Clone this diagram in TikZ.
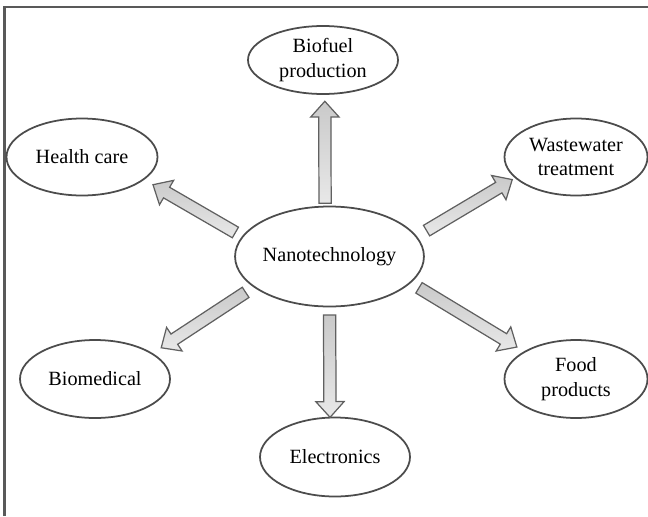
\documentclass[tikz,border=0pt]{standalone}
\usepackage{fontspec}
\setmainfont{Liberation Serif}
\usepackage{xcolor}
\usepackage{tikz}
\usetikzlibrary{shapes.geometric,shapes.arrows,calc}

\tikzset{
	topic/.style={ellipse, draw=gray!60!black, line width=1pt, fill=white, inner sep=0pt,
		align=center, font=\fontsize{11.5}{14.2}\selectfont},
	bigarrow/.style={single arrow, draw=gray!75!black, line width=0.7pt, inner xsep=0pt, inner ysep=0.11cm,
		minimum width=0.54cm, single arrow head extend=0.16cm, single arrow tip angle=84,
		top color=gray!42, bottom color=gray!18},
	frame/.style={draw=gray!70!black, line width=1.2pt}
}
% from, to, gap at tail, gap at tip
\newcommand{\blockarrow}[4]{%
	\path let \p1=($(#1)!#3!(#2)$), \p2=($(#2)!#4!(#1)$),
		\n1={atan2(\y2-\y1,\x2-\x1)}, \n2={veclen(\x2-\x1,\y2-\y1)} in
		node[bigarrow, anchor=tail, rotate=\n1, minimum height=\n2] at (\p1) {};}

\begin{document}
\begin{tikzpicture}
	\useasboundingbox (0,0) rectangle (12.96,10.32);
	\draw[frame] (0.09,0) -- (0.09,10.18) -- (12.96,10.18);
	\node[topic, minimum width=3.7cm, minimum height=2cm] at (6.59,5.19) (nano) {Nanotechnology};
	\node[topic, minimum width=3cm, minimum height=1.36cm] at (6.46,9.12) (bio) {Biofuel\\production};
	\node[topic, minimum width=3.02cm, minimum height=1.54cm] at (1.64,7.18) (health) {Health care};
	\node[topic, minimum width=2.86cm, minimum height=1.54cm] at (11.52,7.18) (water) {Wastewater\\treatment};
	\node[topic, minimum width=3cm, minimum height=1.56cm] at (1.9,2.74) (biomed) {Biomedical};
	\node[topic, minimum width=3cm, minimum height=1.58cm] at (6.7,1.18) (elec) {Electronics};
	\node[topic, minimum width=2.86cm, minimum height=1.56cm] at (11.52,2.74) (food) {Food\\products};
	\blockarrow{nano.95}{bio.-87}{1pt}{4pt}
	\blockarrow{nano.167}{health.-20}{4pt}{6pt}
	\blockarrow{nano.13}{water.-161}{6pt}{2pt}
	\blockarrow{nano.202}{biomed.24}{5pt}{6pt}
	\blockarrow{nano.-90}{elec.97}{4pt}{0pt}
	\blockarrow{nano.-18}{food.152}{5pt}{5pt}
\end{tikzpicture}
\end{document}
